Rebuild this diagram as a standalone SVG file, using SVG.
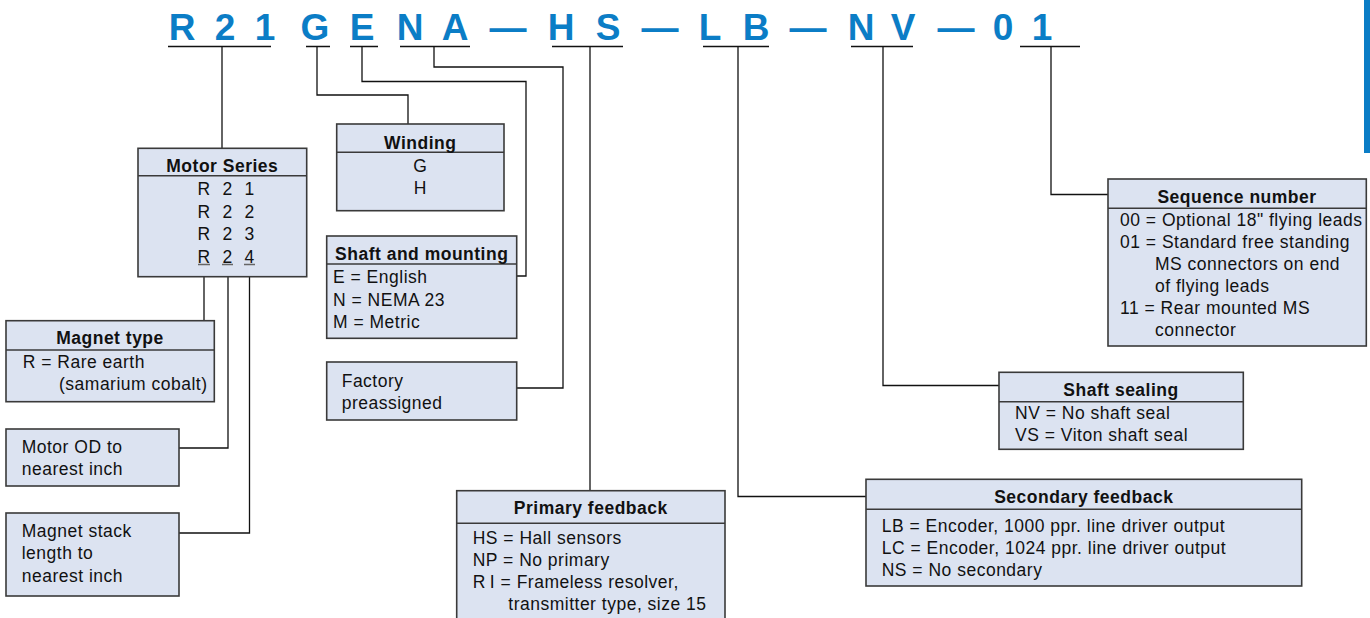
<svg xmlns="http://www.w3.org/2000/svg" width="1370" height="618" viewBox="0 0 1370 618">
<style>
text{font-family:"Liberation Sans",Arial,sans-serif;fill:#111}
.code{font-size:37px;font-weight:bold;fill:#0b7dc6;text-anchor:middle}
.h{font-size:17.5px;font-weight:bold;letter-spacing:0.5px;text-anchor:middle}
.b{font-size:17.5px;letter-spacing:0.5px}
.c{text-anchor:middle}
.box{fill:#dce3f1;stroke:#3a3a3a;stroke-width:1.6}
.div{stroke:#3a3a3a;stroke-width:1.6}
.ln{fill:none;stroke:#111;stroke-width:1.3}
.ul{stroke:#666;stroke-width:1.3}
</style>
<rect width="1370" height="618" fill="#fff"/>
<rect x="1364" y="0" width="6" height="153" fill="#0b7dc6"/>
<g id="code">
<text class="code" x="182 225 265 315 362 410 455 508 561 608 660 710 756 808 861 903 956 1003 1042" y="40">R21GENA—HS—LB—NV—01</text>
</g>
<g id="connectors" class="ln">
<path d="M168,46.5H271M306,46.5H330M350,46.5H378M400,46.5H470M552,46.5H623M703,46.5H769M851,46.5H913M1020,46.5H1080"/>
<path d="M222,46.5V148.3"/>
<path d="M317,46.5V95H408V124"/>
<path d="M362,46.5V81.5H526V276H516.7"/>
<path d="M434,46.5V67H563V388H516.7"/>
<path d="M590,46.5V490.7"/>
<path d="M738,46.5V496.5H866"/>
<path d="M883,46.5V385.5H999"/>
<path d="M1051,46.5V194.5H1108"/>
<path d="M204,264V320.7"/>
<path d="M228,264V448H179"/>
<path d="M249.5,264V533H179"/>
</g>
<g id="motor-series">
<rect class="box" x="138" y="148.3" width="168.7" height="128.4"/>
<line class="div" x1="138" y1="175.7" x2="306.7" y2="175.7"/>
<text class="h" x="222.3" y="172">Motor Series</text>
<text class="b c" x="204 227.5 249.5" y="195">R21</text>
<text class="b c" x="204 227.5 249.5" y="217.5">R22</text>
<text class="b c" x="204 227.5 249.5" y="240">R23</text>
<text class="b c" x="204 227.5 249.5" y="262.5">R24</text>
<path class="ul" d="M198,264.5H210M222,264.5H233M244,264.5H255"/>
</g>
<g id="magnet-type">
<rect class="box" x="6" y="320.7" width="208.3" height="81"/>
<line class="div" x1="6" y1="350" x2="214.3" y2="350"/>
<text class="h" x="110" y="344">Magnet type</text>
<text class="b" x="22.7" y="368">R = Rare earth</text>
<text class="b" x="59" y="390">(samarium cobalt)</text>
</g>
<g id="motor-od">
<rect class="box" x="6" y="429" width="173" height="57"/>
<text class="b" x="21.7" y="453">Motor OD to</text>
<text class="b" x="21.7" y="475">nearest inch</text>
</g>
<g id="magnet-stack">
<rect class="box" x="6" y="513" width="173" height="83"/>
<text class="b" x="21.7" y="537">Magnet stack</text>
<text class="b" x="21.7" y="559">length to</text>
<text class="b" x="21.7" y="581.5">nearest inch</text>
</g>
<g id="winding">
<rect class="box" x="336.7" y="124" width="167.3" height="86.7"/>
<line class="div" x1="336.7" y1="152.3" x2="504" y2="152.3"/>
<text class="h" x="420.3" y="148.5">Winding</text>
<text class="b c" x="420.3" y="171.7">G</text>
<text class="b c" x="420.3" y="193.5">H</text>
</g>
<g id="shaft-mounting">
<rect class="box" x="326.7" y="236" width="190" height="102.3"/>
<line class="div" x1="326.7" y1="264" x2="516.7" y2="264"/>
<text class="h" x="421.7" y="260">Shaft and mounting</text>
<text class="b" x="333" y="283">E = English</text>
<text class="b" x="333" y="305.5">N = NEMA 23</text>
<text class="b" x="333" y="328">M = Metric</text>
</g>
<g id="factory">
<rect class="box" x="326.7" y="362" width="190" height="58"/>
<text class="b" x="341.7" y="386.5">Factory</text>
<text class="b" x="341.7" y="408.5">preassigned</text>
</g>
<g id="primary-feedback">
<rect class="box" x="456.7" y="490.7" width="268.3" height="140"/>
<line class="div" x1="456.7" y1="523.3" x2="725" y2="523.3"/>
<text class="h" x="590.8" y="514">Primary feedback</text>
<text class="b" x="472.7" y="544">HS = Hall sensors</text>
<text class="b" x="472.7" y="566">NP = No primary</text>
<text class="b" x="472.7" y="588">R<tspan dx="4">I</tspan> = Frameless resolver,</text>
<text class="b" x="508.3" y="610">transmitter type, size 15</text>
</g>
<g id="secondary-feedback">
<rect class="box" x="866" y="479.3" width="435.7" height="106.7"/>
<line class="div" x1="866" y1="509.3" x2="1301.7" y2="509.3"/>
<text class="h" x="1083.8" y="503">Secondary feedback</text>
<text class="b" x="881.7" y="532">LB = Encoder, 1000 ppr. line driver output</text>
<text class="b" x="881.7" y="554">LC = Encoder, 1024 ppr. line driver output</text>
<text class="b" x="881.7" y="576">NS = No secondary</text>
</g>
<g id="shaft-sealing">
<rect class="box" x="999" y="372.3" width="244.3" height="77"/>
<line class="div" x1="999" y1="401.7" x2="1243.3" y2="401.7"/>
<text class="h" x="1121" y="395.5">Shaft sealing</text>
<text class="b" x="1015" y="418.5">NV = No shaft seal</text>
<text class="b" x="1015" y="440.5">VS = Viton shaft seal</text>
</g>
<g id="sequence-number">
<rect class="box" x="1108" y="179" width="258.3" height="167"/>
<line class="div" x1="1108" y1="208.3" x2="1366.3" y2="208.3"/>
<text class="h" x="1237" y="202.5">Sequence number</text>
<text class="b" x="1120" y="226">00 = Optional 18" flying leads</text>
<text class="b" x="1120" y="248">01 = Standard free standing</text>
<text class="b" x="1155" y="270">MS connectors on end</text>
<text class="b" x="1155" y="292">of flying leads</text>
<text class="b" x="1120" y="314">11 = Rear mounted MS</text>
<text class="b" x="1155" y="336">connector</text>
</g>
</svg>
